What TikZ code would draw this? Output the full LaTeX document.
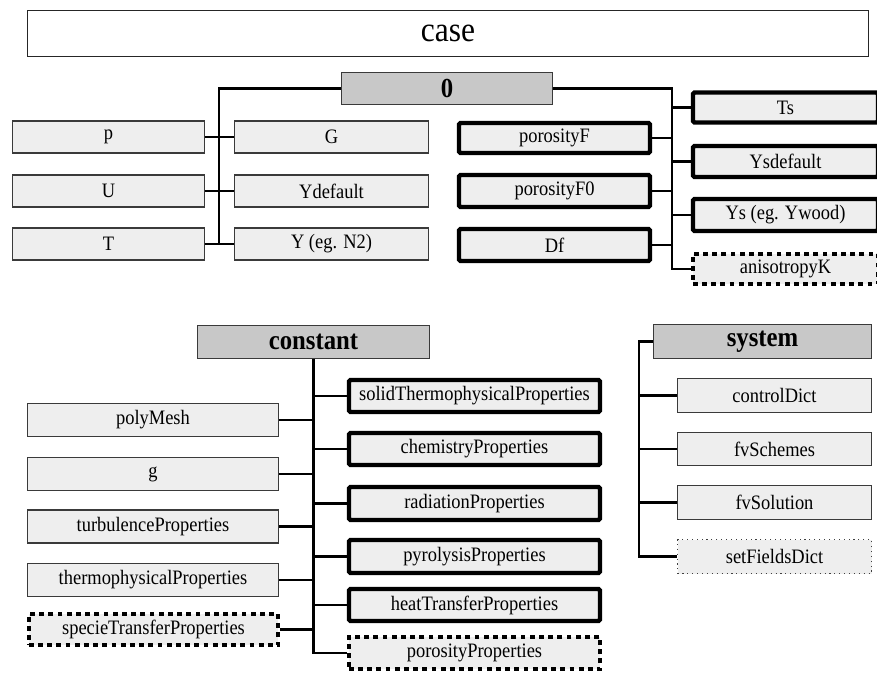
\documentclass[tikz,border=0pt]{standalone}
\usepackage{fontspec}
\setmainfont[FakeStretch=0.9]{Liberation Serif}
\definecolor{boxfill}{HTML}{EEEEEE}
\definecolor{headfill}{HTML}{C8C8C8}
\definecolor{rimgray}{HTML}{3A3A3A}
\newcommand\itemfont{\fontsize{20.5}{24}\selectfont}
\newcommand\headfont{\fontsize{27.5}{32}\selectfont\bfseries}
\newcommand\casefont{\fontsize{35}{40}\selectfont}
\tikzset{
  sz/.style 2 args={minimum width=#1pt, minimum height=#2pt},
  basebox/.style={rectangle, inner sep=0pt, align=center},
  casebox/.style={basebox, draw=black!85, line width=1.4pt, fill=white, font=\casefont},
  headbox/.style={basebox, draw=rimgray, line width=1.3pt, fill=headfill, font=\headfont},
  lightbox/.style={basebox, draw=rimgray, line width=1.2pt, fill=boxfill, font=\itemfont},
  heavybox/.style={basebox, draw=black, line width=4.3pt, rounded corners=1.5pt, fill=boxfill, font=\itemfont},
  optheavy/.style={basebox, draw=black, line width=3.6pt, dash pattern=on 4.8pt off 4.4pt, fill=boxfill, font=\itemfont},
  optlight/.style={basebox, draw=black!75, line width=1.1pt, dash pattern=on 1.1pt off 3.8pt, fill=boxfill, font=\itemfont},
  link/.style={draw=black, line width=2.6pt},
}
\begin{document}
\begin{tikzpicture}[x=1pt,y=-1pt]
\useasboundingbox (0,0) rectangle (877,673);

% top-level folder
\node[casebox, sz={841}{46}] (case) at (448,33.5) {case};

% ---- 0 directory ----
\node[headbox, sz={211}{32}] (zero) at (447,88.5) {0};

\node[lightbox, sz={192}{32}] (p)    at (108.5,137) {p};
\node[lightbox, sz={192}{32}] (U)    at (108.5,191) {U};
\node[lightbox, sz={192}{32}] (T)    at (108.5,244) {T};
\node[lightbox, sz={194}{32}] (G)    at (331.5,137) {G};
\node[lightbox, sz={194}{32}] (Yd)   at (331.5,191) {Ydefault};
\node[lightbox, sz={194}{32}] (Y)    at (331.5,244) {Y (eg. N2)};

\node[heavybox, sz={191}{30}] (porF)  at (554.5,138) {porosityF};
\node[heavybox, sz={191}{32}] (porF0) at (554.5,191) {porosityF0};
\node[heavybox, sz={191}{32}] (Df)    at (554.5,245) {Df};

\node[heavybox, sz={185}{30}] (Ts)    at (785.5,107.5) {Ts};
\node[heavybox, sz={185}{31}] (Ysd)   at (785.5,161.5) {Ysdefault};
\node[heavybox, sz={185}{32}] (Ys)    at (785.5,215) {Ys (eg. Ywood)};
\node[optheavy, sz={185.5}{30.5}] (aniK) at (785.5,269) {anisotropyK};

\coordinate (busL) at (219,88.5);
\coordinate (busR) at (672,88.5);

\draw[link] (zero.west) -- (busL) -- (busL |- T.east);
\draw[link] (p.east) -- (G.west);
\draw[link] (U.east) -- (Yd.west);
\draw[link] (T.east) -- (Y.west);

\draw[link] (zero.east) -- (busR) |- (aniK.west);
\draw[link] (porF.east)  -- (porF.east -| busR);
\draw[link] (porF0.east) -- (porF0.east -| busR);
\draw[link] (Df.east)    -- (Df.east -| busR);
\draw[link] (Ts.west)    -- (Ts.west -| busR);
\draw[link] (Ysd.west)   -- (Ysd.west -| busR);
\draw[link] (Ys.west)    -- (Ys.west -| busR);

% ---- constant directory ----
\node[headbox, sz={232}{33}] (const) at (313.5,342) {constant};

\node[lightbox, sz={251}{33}] (poly)  at (153,420)   {polyMesh};
\node[lightbox, sz={251}{33}] (grav)  at (153,474)   {g};
\node[lightbox, sz={251}{33}] (turb)  at (153,526.5) {turbulenceProperties};
\node[lightbox, sz={251}{33}] (thph)  at (153,580)   {thermophysicalProperties};
\node[optheavy, sz={249.5}{31.5}] (spec) at (153.5,629.5) {specieTransferProperties};

\node[heavybox, sz={251}{32}] (solid) at (474.5,396)   {solidThermophysicalProperties};
\node[heavybox, sz={251}{32}] (chem)  at (474.5,449)   {chemistryProperties};
\node[heavybox, sz={251}{33}] (rad)   at (474.5,503.5) {radiationProperties};
\node[heavybox, sz={251}{33}] (pyro)  at (474.5,556.5) {pyrolysisProperties};
\node[heavybox, sz={251}{32}] (heat)  at (474.5,605)   {heatTransferProperties};
\node[optheavy, sz={251.5}{32.5}] (porP) at (474.5,653) {porosityProperties};

\draw[link] (const.south) |- (porP.west);
\foreach \n in {poly,grav,turb,thph,spec}
  \draw[link] (\n.east) -- (\n.east -| const.south);
\foreach \n in {solid,chem,rad,pyro,heat}
  \draw[link] (\n.west) -- (\n.west -| const.south);

% ---- system directory ----
\node[headbox, sz={218}{34}] (sys) at (762.5,341.5) {system};

\node[lightbox, sz={194}{34}] (ctrl)  at (774.5,395.5) {controlDict};
\node[lightbox, sz={194}{33}] (sch)   at (774.5,449)   {fvSchemes};
\node[lightbox, sz={194}{34}] (sol)   at (774.5,502.5) {fvSolution};
\node[optlight, sz={194}{34}] (setF)  at (774.5,556.5) {setFieldsDict};

\coordinate (busS) at (639,341.5);
\draw[link] (sys.west) -- (busS) |- (setF.west);
\foreach \n in {ctrl,sch,sol}
  \draw[link] (\n.west) -- (\n.west -| busS);

\end{tikzpicture}
\end{document}
